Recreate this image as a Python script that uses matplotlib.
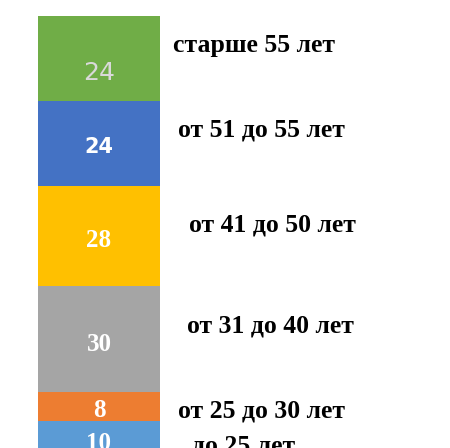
import matplotlib.pyplot as plt
import numpy as np

# возрастные группы снизу вверх
groups = ['до 25 лет', 'от 25 до 30 лет', 'от 31 до 40 лет',
          'от 41 до 50 лет', 'от 51 до 55 лет', 'старше 55 лет']
values = [10, 8, 30, 28, 24, 24]
colors = ['#5B9BD5', '#ED7D31', '#A5A5A5', '#FFC000', '#4472C4', '#70AD47']

# смещения подписей (в единицах данных) и их положение по x
label_x = [0.76, 0.65, 0.72, 0.74, 0.65, 0.61]
label_dy = [-2.0, -1.2, 3.8, 3.2, 3.8, 3.6]
num_dy = [-1.5, -1.2, -1.5, -1.2, -1.0, -4.0]

fig = plt.figure(figsize=(4.5, 4.48), dpi=100)
ax = fig.add_axes([0, 0, 1, 1])

bottoms = np.concatenate([[0], np.cumsum(values)[:-1]])
ax.bar(0, values, bottom=bottoms, width=1, color=colors)

for i, (v, b) in enumerate(zip(values, bottoms)):
    yc = b + v / 2
    if i == 5:
        ax.text(0, yc + num_dy[i], str(v), ha='center', va='center',
                fontsize=18, color='#D9D9D9', family=['DejaVu Sans'])
    elif i == 4:
        ax.text(0, yc + num_dy[i], str(v), ha='center', va='center',
                fontsize=15, color='white', family=['DejaVu Sans'],
                fontweight='bold')
    else:
        ax.text(0, yc + num_dy[i], str(v), ha='center', va='center',
                fontsize=18, color='white', family=['Liberation Serif'],
                fontweight='bold')
    ax.text(label_x[i], yc + label_dy[i], groups[i], ha='left', va='center',
            fontsize=18.5, color='black', family=['Liberation Serif'],
            fontweight='bold')

ax.set_xlim(-0.811, 2.877)
ax.set_ylim(2.3, 128.5)
ax.axis('off')

fig.savefig('out.png', dpi=100)
